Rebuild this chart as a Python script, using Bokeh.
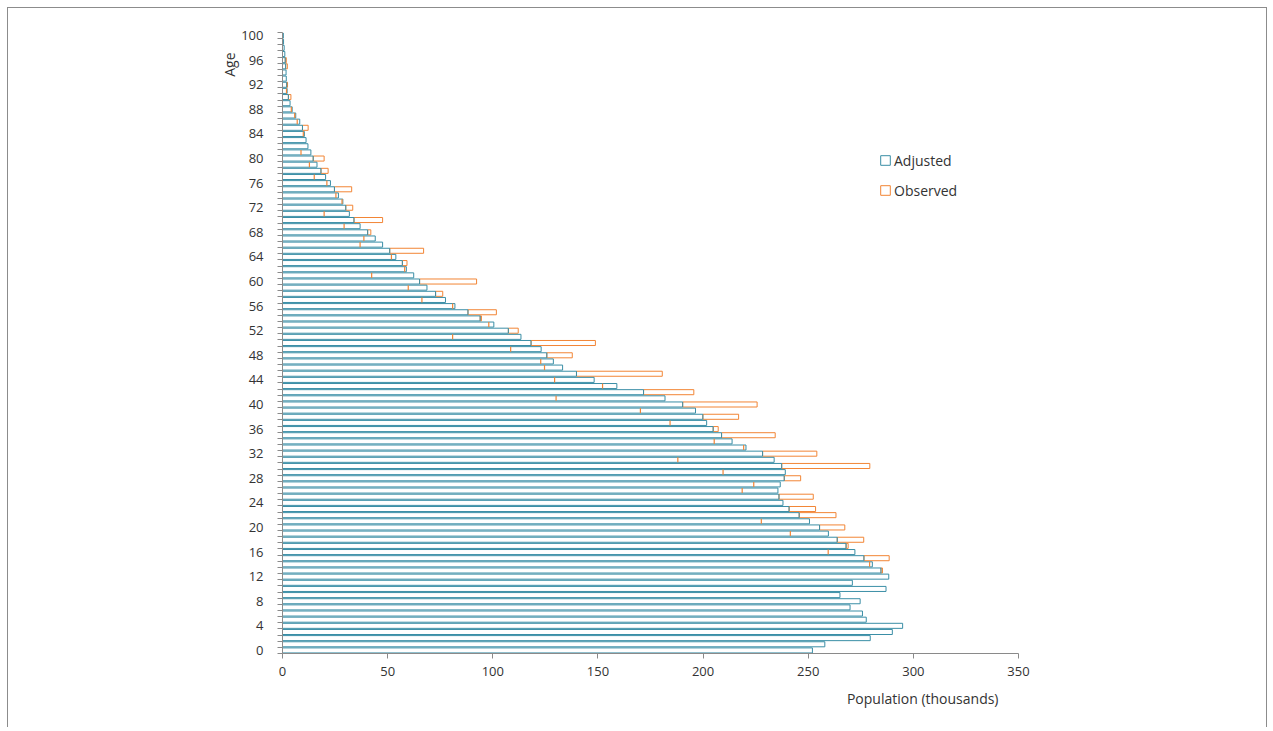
import numpy as np
from bokeh.plotting import figure
from bokeh.models import Range1d, FixedTicker, Legend, LegendItem, Title, ColumnDataSource
from bokeh.embed import file_html
from bokeh.resources import INLINE

# ---------------- data ----------------
ages = list(range(0, 101))

adjusted = [252.0, 257.9, 279.5, 290.0, 294.9, 277.6, 275.8, 269.9, 274.7, 265.1,   # 0-9
            287.0, 271.0, 288.3, 284.6, 280.5, 276.5, 272.2, 268.0, 263.8, 259.6,   # 10-19
            255.4, 250.6, 245.7, 240.9, 238.0, 236.1, 235.6, 236.7, 238.6, 239.1,   # 20-29
            237.4, 233.8, 228.3, 220.4, 213.8, 208.8, 204.8, 201.7, 199.9, 196.4,   # 30-39
            190.3, 181.9, 171.7, 159.0, 148.2, 139.8, 133.2, 128.8, 125.7, 123.0,   # 40-49
            118.2, 113.4, 107.4, 100.5, 94.0, 88.2, 82.0, 77.5, 72.8, 68.7,         # 50-59
            65.2, 62.4, 58.9, 57.0, 53.9, 51.0, 47.6, 44.1, 40.5, 36.9,             # 60-69
            34.0, 31.8, 30.1, 28.7, 26.6, 24.7, 22.8, 20.5, 18.3, 16.4,             # 70-79
            14.6, 13.5, 12.1, 11.2, 10.4, 9.5, 8.2, 6.3, 4.6, 3.6,                  # 80-89
            2.8, 2.2, 2.0, 1.8, 1.7, 1.5, 1.3, 1.1, 0.8, 0.5,                       # 90-99
            0.4]                                                                     # 100

observed = [252.0, 257.9, 279.5, 290.0, 294.9, 277.6, 275.8, 269.9, 274.7, 265.1,   # 0-9
            287.0, 271.0, 288.3, 285.3, 279.2, 288.5, 259.5, 269.0, 276.4, 241.5,   # 10-19
            267.4, 227.7, 263.2, 253.5, 238.3, 252.4, 218.6, 224.1, 246.4, 209.5,   # 20-29
            279.3, 188.0, 254.1, 219.3, 205.3, 234.3, 207.2, 184.3, 216.9, 170.2,   # 30-39
            225.7, 130.1, 195.6, 152.2, 129.4, 180.6, 124.6, 122.8, 137.8, 108.5,   # 40-49
            148.8, 80.9, 112.1, 98.1, 94.6, 101.7, 80.9, 66.3, 76.2, 59.8,          # 50-59
            92.3, 42.4, 58.1, 59.2, 51.8, 67.1, 36.9, 38.7, 42.0, 29.3,             # 60-69
            47.6, 19.8, 33.4, 28.3, 25.4, 32.9, 21.1, 15.1, 21.7, 12.8,             # 70-79
            19.8, 8.8, 12.1, 11.2, 9.9, 12.2, 7.0, 5.8, 4.2, 3.9,                   # 80-89
            4.0, 1.9, 2.4, 1.8, 1.6, 2.3, 1.8, 1.0, 0.8, 0.5,                       # 90-99
            0.4]                                                                     # 100

series_names = ["Adjusted", "Observed"]
x_ticks = [0, 50, 100, 150, 200, 250, 300, 350]
y_label_ticks = list(range(0, 101, 4))
x_title = "Population (thousands)"
y_title = "Age"

assert len(adjusted) == 101 and len(observed) == 101

# ---------------- styles ----------------
TEAL = "#3a8ea6"
ORANGE = "#f28535"
AXIS = "#8a8a8a"
TEXT = "#333333"
FONT = "Open Sans"
BAR_H = 0.82

p = figure(width=1260, height=720, output_backend="svg", toolbar_location=None,
           x_range=Range1d(0, 350), y_range=Range1d(-0.5, 100.5),
           min_border_left=274, min_border_right=250,
           min_border_top=24, min_border_bottom=75)
p.styles = {"margin-left": "7px", "margin-top": "7px",
            "border-top": "1px solid #8c8c8c", "border-left": "1px solid #8c8c8c",
            "border-right": "1px solid #8c8c8c"}
p.outline_line_color = None
p.xgrid.visible = False
p.ygrid.visible = False
p.background_fill_color = "white"
p.border_fill_color = "white"

adj_arr = np.array(adjusted)
obs_arr = np.array(observed)
age_arr = np.array(ages)

# observed part extending beyond the adjusted bar (orange box)
ext = obs_arr > adj_arr + 0.3
src_ext = ColumnDataSource(dict(age=age_arr[ext], left=adj_arr[ext], right=obs_arr[ext]))
# observed end lying inside the adjusted bar (orange tick)
inner = obs_arr < adj_arr - 0.3
src_in = ColumnDataSource(dict(x=obs_arr[inner], y0=age_arr[inner] - BAR_H / 2,
                               y1=age_arr[inner] + BAR_H / 2))
src_adj = ColumnDataSource(dict(age=ages, adj=adjusted))

r_obs = p.hbar(y="age", left="left", right="right", height=BAR_H, source=src_ext,
               fill_color=None, line_color=ORANGE, line_width=1)
r_adj = p.hbar(y="age", left=0, right="adj", height=BAR_H, source=src_adj,
               fill_color=None, line_color=TEAL, line_width=1)
p.segment(x0="x", x1="x", y0="y0", y1="y1", source=src_in, line_color=ORANGE, line_width=1.2)

# axes
xa = p.xaxis[0]
xa.ticker = FixedTicker(ticks=x_ticks)
xa.axis_line_color = AXIS
xa.major_tick_line_color = AXIS
xa.major_tick_out = 5
xa.major_tick_in = 0
xa.minor_tick_line_color = None
xa.major_label_text_font = FONT
xa.major_label_text_font_size = "13px"
xa.major_label_text_color = TEXT
xa.major_label_standoff = 8

ya = p.yaxis[0]
ya.ticker = FixedTicker(ticks=y_label_ticks, minor_ticks=[a - 0.5 for a in ages] + [100.5])
ya.axis_line_color = AXIS
ya.major_tick_line_color = None
ya.major_tick_out = 0
ya.major_tick_in = 0
ya.minor_tick_line_color = AXIS
ya.minor_tick_out = 5
ya.minor_tick_in = 0
ya.major_label_text_font = FONT
ya.major_label_text_font_size = "13px"
ya.major_label_text_color = TEXT
ya.major_label_standoff = 14

# axis titles as side-panel titles
p.add_layout(Title(text=x_title, align="right", offset=20, vertical_align="top", standoff=20,
                   text_font=FONT, text_font_size="14px", text_font_style="normal",
                   text_color=TEXT), "below")
p.add_layout(Title(text=y_title, align="right", offset=20, vertical_align="bottom", standoff=0,
                   text_font=FONT, text_font_size="14px", text_font_style="normal",
                   text_color=TEXT), "left")

FRAME_LEFT = 282
FRAME_BOTTOM = 653
legend = Legend(items=[LegendItem(label=series_names[0], renderers=[r_adj]),
                       LegendItem(label=series_names[1], renderers=[r_obs])],
                location=(879 - FRAME_LEFT, FRAME_BOTTOM - 200),
                glyph_width=12, glyph_height=12, label_height=20, spacing=10,
                label_standoff=3, padding=0, margin=0,
                border_line_color=None, background_fill_alpha=0,
                label_text_font=FONT, label_text_font_size="14px", label_text_color=TEXT)
p.add_layout(legend)

open("out.html", "w").write(file_html(p, INLINE))
